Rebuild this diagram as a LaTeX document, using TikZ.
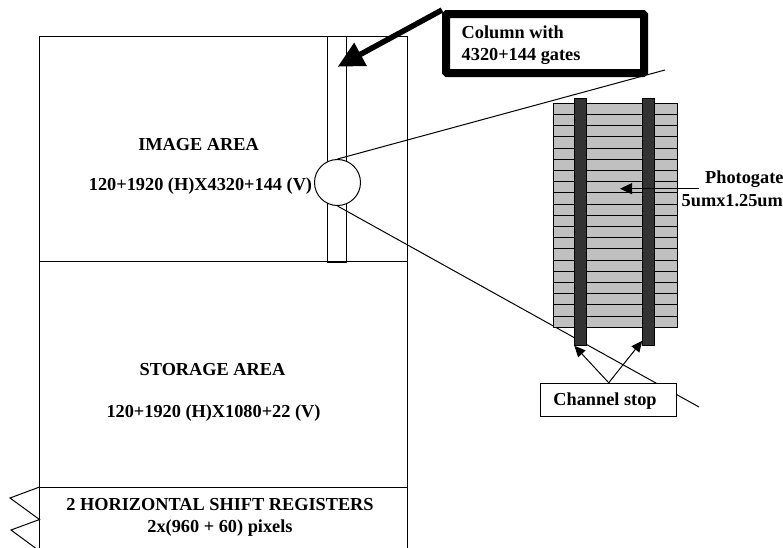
\documentclass[tikz,border=0pt]{standalone}
\usepackage{fontspec}
\setmainfont{Liberation Serif}
\usetikzlibrary{arrows.meta}
\tikzset{
  label/.style={font=\bfseries\fontsize{18.3}{21.7}\selectfont, align=center, yshift=-1.5pt},
  wire/.style={line width=1pt},
  stopbar/.style={draw=black, line width=0.6pt, fill=stopfill},
}
\definecolor{gatefill}{HTML}{C0C0C0}
\definecolor{stopfill}{HTML}{333333}
\begin{document}
\begin{tikzpicture}[x=1pt, y=-1pt]
  \useasboundingbox (0,0) rectangle (783,547);
  \clip (0,0) rectangle (783,547);
  % sensor outline
  \coordinate (imgNW) at (39.5,36);
  \coordinate (imgNE) at (407,36);
  \coordinate (imgSW) at (39.5,261);
  \coordinate (imgSE) at (407,261);
  \coordinate (stoSW) at (39.5,487);
  \coordinate (stoSE) at (407,487);
  \coordinate (botW) at (39.5,548);
  \coordinate (botE) at (407,548);
  \draw[wire] (botW) -- (imgNW) -- (imgNE) -- (botE);
  \draw[wire] (imgSW) -- (imgSE);
  \draw[wire] (stoSW) -- (stoSE);
  % column
  \draw[wire] (327,36) rectangle (346,262);
  % zoom lines
  \coordinate (zoomA) at (665,70);
  \coordinate (zoomB) at (699,407);
  \node[circle, draw, wire, fill=white, minimum size=46pt, inner sep=0pt] (loupe) at (337.5,182.5) {};
  \draw[wire] (loupe.north) -- (zoomA);
  \draw[wire] (loupe.south) -- (zoomB);
  % area labels
  \node[label] (imagetitle) at (198.5,143) {IMAGE AREA};
  \node[label] (imagesize) at (200.5,184.5) {120+1920 (H)X4320+144 (V)};
  \node[label] (storagetitle) at (212.5,368) {STORAGE AREA};
  \node[label] (storagesize) at (213.5,412) {120+1920 (H)X1080+22 (V)};
  \node[label, inner sep=0pt] (registers) at (220,516) {2 HORIZONTAL SHIFT REGISTERS\\2x(960 + 60) pixels};
  % clock zigzag
  \draw[wire] (stoSW) -- (10,498) -- (39.5,519.5) -- (11,530) -- (39.5,551);
  % photogates
  \foreach \i in {0,...,19}
    \fill[gatefill] (553,{103.3+11.2*\i}) rectangle (677,{114.5+11.2*\i});
  \foreach \i in {0,...,20}
    \draw[wire] (553,{103.3+11.2*\i}) -- (677,{103.3+11.2*\i});
  \draw[wire] (553,103.3) rectangle (677,327.3);
  % channel stops
  \node[stopbar, minimum width=12pt, minimum height=247pt, inner sep=0pt] (stopL) at (580.7,222) {};
  \node[stopbar, minimum width=12pt, minimum height=247pt, inner sep=0pt] (stopR) at (648.5,222) {};
  % channel stop label
  \node[draw, wire, fill=white, minimum width=136pt, minimum height=33.5pt, inner sep=0pt] (stopbox) at (608.7,400) {};
  \node[label, inner sep=0pt] (stoplabel) at (605,400) {Channel stop};
  \draw[wire, -{Triangle[length=11pt,width=10pt]}] (stopbox.north) -- (stopL.south west);
  \draw[wire, -{Triangle[length=11pt,width=10pt]}] (stopbox.north) -- ([yshift=5pt]stopR.south west);
  % photogate label
  \node[label, anchor=west, inner sep=0pt] (gatetext) at (705,178) {Photogate};
  \node[label, anchor=west, inner sep=0pt] (gatesize) at (681.5,199) {5umx1.25um};
  \coordinate (gatefrom) at (699,188.7);
  \coordinate (gatetip) at (620,188.7);
  \draw[wire, -{Triangle[length=12pt,width=11pt]}] (gatefrom) -- (gatetip);
  % column callout
  \node[draw, line width=8pt, rounded corners=1pt, fill=white, minimum width=198pt, minimum height=59pt, inner sep=0pt] (callout) at (545,43.5) {};
  \node[label, align=left, anchor=west, inner sep=0pt] (callouttext) at (461.5,44) {Column with\\4320+144 gates};
  \coordinate (columntip) at (337.7,66.7);
  \draw[line width=5.5pt, -{Triangle[length=26pt,width=25pt]}] (callout.north west) -- (columntip);
\end{tikzpicture}
\end{document}
